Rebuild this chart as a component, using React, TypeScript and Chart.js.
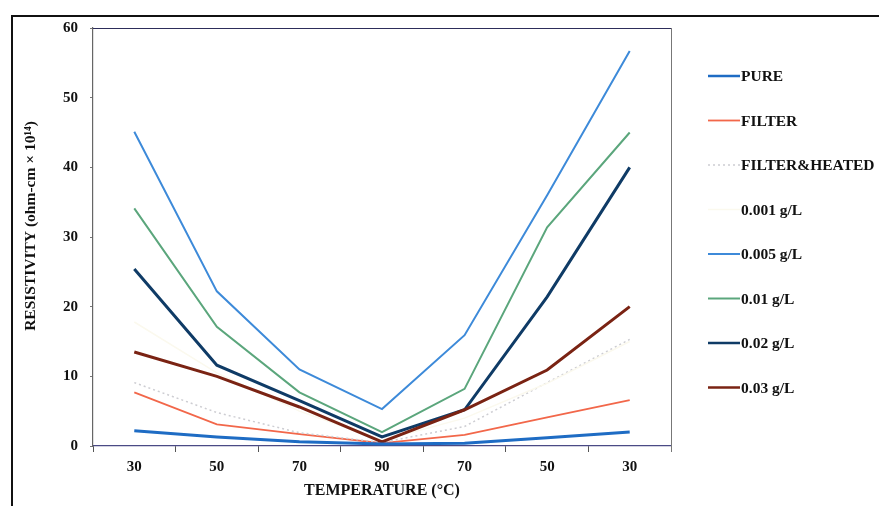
import React, { useEffect, useRef } from "react";
import { Chart, registerables } from "chart.js";

Chart.register(...registerables);

const categories = ["30", "50", "70", "90", "70", "50", "30"];
const seriesNames = ["PURE", "FILTER", "FILTER&HEATED", "0.001 g/L", "0.005 g/L", "0.01 g/L", "0.02 g/L", "0.03 g/L"];
const pure = [2.2, 1.3, 0.6, 0.3, 0.4, 1.2, 2.0];
const filter = [7.7, 3.1, 1.7, 0.4, 1.6, 4.1, 6.6];
const filterHeated = [9.1, 4.8, 1.9, 0.5, 2.8, 9.1, 15.3];
const g0001 = [17.8, 10.5, 5.0, 0.8, 4.0, 9.0, 15.0];
const g0005 = [45.1, 22.2, 11.0, 5.3, 15.9, 36.0, 56.7];
const g001 = [34.1, 17.1, 7.7, 2.0, 8.2, 31.4, 45.0];
const g002 = [25.4, 11.6, 6.5, 1.3, 5.2, 21.4, 40.0];
const g003 = [13.5, 10.0, 5.6, 0.6, 5.2, 10.9, 20.0];
const yTicks = [0, 10, 20, 30, 40, 50, 60];
const yTitle = "RESISTIVITY (ohm-cm \u00D7 10\u00B9\u2074)";
const xTitle = "TEMPERATURE (\u00B0C)";

const FONT = "'Liberation Serif', 'Times New Roman', serif";

export default function App() {
  const ref = useRef<HTMLCanvasElement | null>(null);

  useEffect(() => {
    const canvas = ref.current;
    if (!canvas) return;

    const styles = [
      { c: "#1e6cc4", w: 3, d: [] as number[] },
      { c: "#f2674a", w: 1.8, d: [] },
      { c: "#cdcdd2", w: 1.5, d: [2, 3] },
      { c: "#fbf9ee", w: 1.5, d: [] },
      { c: "#3d8ad9", w: 2, d: [] },
      { c: "#5ba67c", w: 2, d: [] },
      { c: "#0f3b66", w: 3, d: [] },
      { c: "#7a2313", w: 3, d: [] },
    ];
    const values = [pure, filter, filterHeated, g0001, g0005, g001, g002, g003];
    const datasets = values.map((v, i) => ({
      label: seriesNames[i],
      data: v,
      borderColor: styles[i].c,
      backgroundColor: styles[i].c,
      borderWidth: styles[i].w,
      borderDash: styles[i].d,
      pointRadius: 0,
      tension: 0,
      fill: false,
      order: i === 0 ? 0 : 8 - i,
    }));

    const framePlugin = {
      id: "frame",
      afterDraw(chart: any) {
        const ctx = chart.ctx;
        const a = chart.chartArea;
        ctx.save();
        // outer black frame
        ctx.strokeStyle = "#111";
        ctx.lineWidth = 2;
        ctx.beginPath();
        ctx.moveTo(12, 506);
        ctx.lineTo(12, 16);
        ctx.lineTo(879, 16);
        ctx.stroke();
        // plot box top & right
        ctx.lineWidth = 1;
        ctx.strokeStyle = "#2d2d5a";
        ctx.beginPath();
        ctx.moveTo(a.left, a.top + 0.5);
        ctx.lineTo(a.right, a.top + 0.5);
        ctx.stroke();
        ctx.strokeStyle = "#777";
        ctx.beginPath();
        ctx.moveTo(a.right + 0.5, a.top);
        ctx.lineTo(a.right + 0.5, a.bottom + 6);
        ctx.stroke();
        // y axis title
        ctx.save();
        ctx.translate(31, 226);
        ctx.rotate(-Math.PI / 2);
        ctx.font = `bold 15.5px ${FONT}`;
        ctx.fillStyle = "#111";
        ctx.textAlign = "center";
        ctx.textBaseline = "middle";
        ctx.fillText(yTitle, 0, 0);
        ctx.restore();
        // legend
        const ds = chart.data.datasets;
        ctx.font = `bold 15.5px ${FONT}`;
        ctx.textBaseline = "middle";
        ctx.textAlign = "left";
        for (let i = 0; i < ds.length; i++) {
          const y = 76 + i * 44.5;
          ctx.strokeStyle = ds[i].borderColor;
          ctx.lineWidth = Math.min(ds[i].borderWidth, 2.5);
          ctx.setLineDash(ds[i].borderDash || []);
          ctx.beginPath();
          ctx.moveTo(708, y);
          ctx.lineTo(740, y);
          ctx.stroke();
          ctx.setLineDash([]);
          ctx.fillStyle = "#111";
          ctx.fillText(ds[i].label, 741, y + 1);
        }
        ctx.restore();
      },
    };

    const chart = new Chart(canvas, {
      type: "line",
      data: { labels: categories, datasets },
      options: {
        animation: false,
        responsive: false,
        maintainAspectRatio: false,
        layout: { padding: { left: 0, top: 28, right: 208, bottom: 0 } },
        plugins: { legend: { display: false }, tooltip: { enabled: false } },
        scales: {
          x: {
            type: "category",
            offset: true,
            grid: { display: true, drawOnChartArea: false, offset: true, tickLength: 6, color: "#555" },
            border: { display: true, color: "#4a4a85", width: 1.2 },
            ticks: { color: "#111", font: { family: FONT, size: 15, weight: "bold", lineHeight: 1.2 }, padding: 6, maxRotation: 0, autoSkip: false },
            title: { display: true, text: xTitle, color: "#111", font: { family: FONT, size: 16, weight: "bold", lineHeight: 1.2 }, padding: { top: 6, bottom: 5.5 } },
            afterFit(scale: any) { scale.height = 60; },
          },
          y: {
            min: 0,
            max: 60,
            afterBuildTicks(scale: any) { scale.ticks = yTicks.map((v) => ({ value: v })); },
            grid: { display: true, drawOnChartArea: false, tickLength: 3, color: "#777" },
            border: { display: true, color: "#666", width: 1.2 },
            ticks: { color: "#111", font: { family: FONT, size: 15, weight: "bold", lineHeight: 1.2 }, padding: 12 },
            title: { display: false, text: yTitle },
            afterFit(scale: any) { scale.width = 93; },
          },
        },
      },
      plugins: [framePlugin],
    });
    return () => chart.destroy();
  }, []);

  return (
    <div style={{ position: "fixed", left: 0, top: 0, width: 879, height: 506, background: "#fff" }}>
      <canvas ref={ref} width={879} height={506} style={{ width: 879, height: 506, display: "block" }} />
    </div>
  );
}
